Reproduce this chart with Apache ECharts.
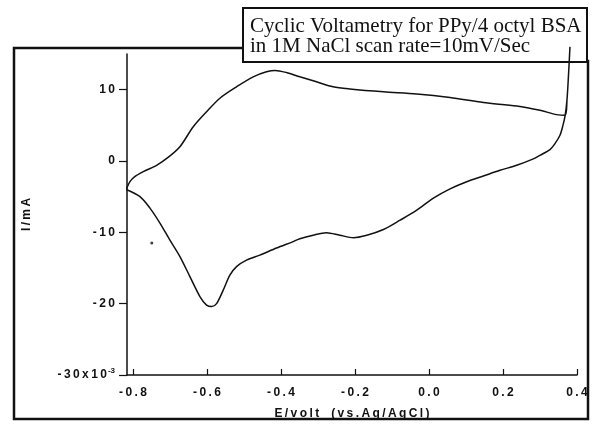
<!DOCTYPE html>
<html>
<head>
<meta charset="utf-8">
<script src="https://cdn.jsdelivr.net/npm/echarts@6/dist/echarts.min.js"></script>
<style>
  html, body { margin: 0; padding: 0; background: #fff; }
  #chart { width: 603px; height: 426px; }
</style>
</head>
<body>
<div id="chart"></div>
<script>
// anodic sweep, left vertex -> right vertex (E in V, I in mA)
const potAnodic = [-0.818, -0.808, -0.795, -0.772, -0.736, -0.705, -0.673, -0.637, -0.601, -0.565, -0.520, -0.475, -0.439, -0.416, -0.385, -0.349, -0.304, -0.259, -0.214, -0.123, -0.033, 0.057, 0.147, 0.237, 0.300, 0.345, 0.368, 0.373, 0.377, 0.381];
const curAnodic = [-4.0, -2.9, -2.2, -1.5, -0.6, 0.5, 2.0, 4.8, 6.9, 8.8, 10.4, 11.8, 12.5, 12.7, 12.4, 11.8, 11.1, 10.4, 10.1, 9.7, 9.4, 8.9, 8.2, 7.7, 7.1, 6.5, 6.4, 8.6, 12.0, 16.0];
// cathodic sweep, right vertex -> left vertex
const potCathodic = [0.377, 0.373, 0.368, 0.362, 0.354, 0.340, 0.327, 0.300, 0.282, 0.237, 0.192, 0.147, 0.102, 0.057, 0.012, -0.033, -0.078, -0.123, -0.168, -0.204, -0.241, -0.277, -0.313, -0.349, -0.367, -0.412, -0.457, -0.493, -0.520, -0.538, -0.556, -0.574, -0.587, -0.601, -0.619, -0.646, -0.673, -0.700, -0.727, -0.754, -0.781, -0.818];
const curCathodic = [12.0, 8.6, 6.4, 5.0, 3.6, 2.4, 1.6, 0.8, 0.3, -0.6, -1.3, -2.1, -2.9, -3.9, -5.2, -6.9, -8.3, -9.6, -10.4, -10.75, -10.4, -10.05, -10.4, -10.9, -11.3, -12.2, -13.2, -13.9, -14.8, -16.0, -18.1, -20.0, -20.4, -20.2, -19.0, -16.2, -13.4, -11.1, -8.7, -6.6, -5.0, -4.0];
// small speck on the scan
const speck = [[-0.749, -11.5]];

const xTicks = [-0.8, -0.6, -0.4, -0.2, 0.0, 0.2, 0.4];
const yTicks = [-30, -20, -10, 0, 10];
const titleLines = ['Cyclic Voltametry for PPy/4 octyl BSA', 'in 1M NaCl scan rate=10mV/Sec'];

const loop = potAnodic.map((e, i) => [e, curAnodic[i]])
    .concat(potCathodic.map((e, i) => [e, curCathodic[i]]));

// the old plotting program spaced its letters out
const spaced = s => s.split('').join('\u2009');

const tickFont = {
    fontFamily: 'Liberation Sans',
    fontWeight: 'bold',
    fontSize: 12,
    color: '#111'
};

const chart = echarts.init(document.getElementById('chart'), null, {renderer: 'canvas'});
chart.setOption({
    animation: false,
    backgroundColor: '#fff',
    grid: {
        left: 127,
        right: 26,
        top: 54,
        bottom: 51
    },
    xAxis: {
        type: 'value',
        min: -0.816,
        max: 0.4,
        name: spaced('E/volt') + '\u2003' + spaced('(vs.Ag/AgCl)'),
        nameLocation: 'middle',
        nameGap: 33,
        nameTextStyle: tickFont,
        axisLine: {onZero: false, lineStyle: {color: '#111', width: 1.5}},
        axisTick: {
            inside: true,
            length: 6,
            customValues: xTicks,
            lineStyle: {color: '#111', width: 1.2}
        },
        axisLabel: {
            margin: 12,
            customValues: xTicks,
            formatter: v => spaced(v.toFixed(1)),
            ...tickFont
        },
        splitLine: {show: false}
    },
    yAxis: {
        type: 'value',
        min: -30,
        max: 15,
        name: spaced('I/mA'),
        nameLocation: 'middle',
        nameGap: 94,
        nameRotate: 90,
        nameTextStyle: tickFont,
        axisLine: {onZero: false, lineStyle: {color: '#111', width: 1.5}},
        axisTick: {
            length: 8,
            customValues: yTicks,
            lineStyle: {color: '#111', width: 1.2}
        },
        axisLabel: {
            margin: 12,
            customValues: yTicks,
            formatter: v => v === -30 ? '{a|' + spaced('-30x10') + '}{s|-3}' : spaced(String(v)),
            rich: {
                a: {...tickFont},
                s: {...tickFont, fontSize: 8, verticalAlign: 'bottom', padding: [0, 0, 8, 1]}
            },
            ...tickFont
        },
        splitLine: {show: false}
    },
    series: [{
        type: 'line',
        data: loop,
        clip: false,
        smooth: 0.3,
        showSymbol: false,
        lineStyle: {color: '#111', width: 1.5},
        z: 5
    }, {
        type: 'scatter',
        data: speck,
        symbolSize: 3,
        itemStyle: {color: '#111'},
        z: 5
    }],
    graphic: [{
        type: 'polyline',
        z: 0,
        shape: {points: [[243, 48], [14, 48], [14, 419], [588, 419], [588, 61], [573, 61]]},
        style: {stroke: '#111', lineWidth: 2.5, fill: null}
    }, {
        type: 'rect',
        z: 1,
        shape: {x: 243, y: 8, width: 344, height: 54},
        style: {stroke: '#111', lineWidth: 2, fill: '#fff'}
    }, {
        type: 'text',
        z: 2,
        left: 250,
        top: 16,
        style: {
            text: titleLines.join('\n'),
            fontFamily: 'Liberation Serif',
            fontSize: 21,
            lineHeight: 20,
            fill: '#111'
        }
    }]
});
</script>
</body>
</html>
